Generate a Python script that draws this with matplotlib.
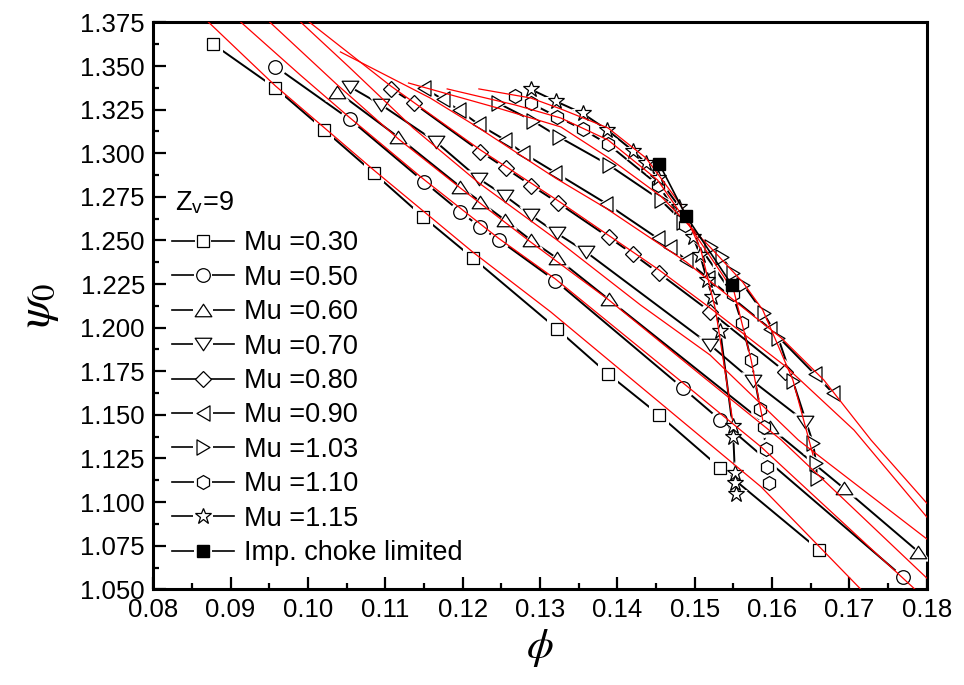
import matplotlib
matplotlib.use('Agg')
import matplotlib.pyplot as plt
from matplotlib.lines import Line2D
from matplotlib.path import Path
from matplotlib.legend_handler import HandlerTuple
from matplotlib.ticker import MultipleLocator, FormatStrFormatter

plt.rcParams['font.family'] = ['Liberation Sans', 'DejaVu Sans']
plt.rcParams['mathtext.fontset'] = 'stix'

# ---------------- data ----------------
labels = ['Mu =0.30', 'Mu =0.50', 'Mu =0.60', 'Mu =0.70', 'Mu =0.80',
          'Mu =0.90', 'Mu =1.03', 'Mu =1.10', 'Mu =1.15']
choke_label = 'Imp. choke limited'
title_text = r'Z$_\mathregular{v}$=9'

phi_030 = [0.0877, 0.0958, 0.1021, 0.1085, 0.1149, 0.1213, 0.1322, 0.1388, 0.1454, 0.1533, 0.1661]
psi_030 = [1.3627, 1.3374, 1.3134, 1.2887, 1.2635, 1.2400, 1.1993, 1.1735, 1.1500, 1.1196, 1.0725]

phi_050 = [0.0958, 0.1054, 0.1150, 0.1197, 0.1222, 0.1247, 0.1320, 0.1485, 0.1533, 0.1769]
psi_050 = [1.3497, 1.3195, 1.2837, 1.2665, 1.2579, 1.2503, 1.2269, 1.1653, 1.1471, 1.0572]

phi_060 = [0.1038, 0.1117, 0.1197, 0.1223, 0.1255, 0.1288, 0.1322, 0.1389, 0.1597, 0.1693, 0.1789]
psi_060 = [1.3353, 1.3092, 1.2808, 1.2722, 1.2616, 1.2503, 1.2398, 1.2162, 1.1429, 1.1079, 1.0716]

phi_070 = [0.1054, 0.1095, 0.1165, 0.1221, 0.1255, 0.1288, 0.1322, 0.1359, 0.1520, 0.1575, 0.1643]
psi_070 = [1.3382, 1.3277, 1.3067, 1.2854, 1.2755, 1.2646, 1.2541, 1.2436, 1.1901, 1.1694, 1.1461]

phi_080 = [0.1108, 0.1137, 0.1223, 0.1256, 0.1289, 0.1323, 0.1389, 0.1420, 0.1454, 0.1520, 0.1617]
psi_080 = [1.3369, 1.3286, 1.3010, 1.2913, 1.2815, 1.2717, 1.2518, 1.2423, 1.2312, 1.2092, 1.1748]

phi_090 = [0.1150, 0.1174, 0.1195, 0.1221, 0.1255, 0.1278, 0.1320, 0.1386, 0.1452, 0.1468,
           0.1489, 0.1517, 0.1598, 0.1655, 0.1679]
psi_090 = [1.3374, 1.3310, 1.3248, 1.3165, 1.3076, 1.3002, 1.2889, 1.2711, 1.2513, 1.2464,
           1.2388, 1.2285, 1.1993, 1.1735, 1.1624]

phi_103 = [0.1246, 0.1291, 0.1324, 0.1389, 0.1456, 0.1485, 0.1521, 0.1535, 0.1550, 0.1563,
           0.1589, 0.1608, 0.1627, 0.1653, 0.1657, 0.1658]
psi_103 = [1.3287, 1.3185, 1.3095, 1.2933, 1.2732, 1.2606, 1.2463, 1.2405, 1.2314, 1.2245,
           1.2084, 1.1941, 1.1694, 1.1339, 1.1224, 1.1138]

phi_110 = [0.1268, 0.1288, 0.1322, 0.1355, 0.1388, 0.1453, 0.1487, 0.1549, 0.1561, 0.1573,
           0.1585, 0.1589, 0.1592, 0.1594, 0.1596]
psi_110 = [1.3330, 1.3287, 1.3210, 1.3138, 1.3052, 1.2818, 1.2589, 1.2193, 1.2029, 1.1815,
           1.1531, 1.1432, 1.1302, 1.1203, 1.1110]

phi_115 = [0.1288, 0.1321, 0.1355, 0.1387, 0.1420, 0.1437, 0.1453, 0.1480, 0.1498, 0.1507,
           0.1516, 0.1523, 0.1533, 0.1549, 0.1550, 0.1552, 0.1552, 0.1554]
psi_115 = [1.3367, 1.3297, 1.3229, 1.3134, 1.3015, 1.2943, 1.2857, 1.2694, 1.2520, 1.2417,
           1.2274, 1.2178, 1.1983, 1.1436, 1.1375, 1.1165, 1.1108, 1.1046]

phi_choke = [0.1454, 0.1489, 0.1548]
psi_choke = [1.2941, 1.2640, 1.2245]

# model curves (red)
model_phi_030 = [0.0860, 0.0958, 0.1085, 0.1213, 0.1314, 0.1454, 0.1586, 0.1728]
model_psi_030 = [1.3800, 1.3386, 1.2904, 1.2434, 1.2090, 1.1574, 1.1087, 1.0440]
model_phi_050 = [0.0901, 0.0990, 0.1053, 0.1149, 0.1246, 0.1320, 0.1485, 0.1586, 0.1790]
model_psi_050 = [1.3800, 1.3449, 1.3208, 1.2853, 1.2514, 1.2279, 1.1683, 1.1316, 1.0479]
model_phi_060 = [0.0939, 0.1038, 0.1117, 0.1197, 0.1288, 0.1389, 0.1508, 0.1612, 0.1819]
model_psi_060 = [1.3800, 1.3392, 1.3082, 1.2801, 1.2491, 1.2159, 1.1729, 1.1356, 1.0485]
model_phi_070 = [0.0979, 0.1053, 0.1136, 0.1221, 0.1322, 0.1430, 0.1520, 0.1634, 0.1832]
model_psi_070 = [1.3800, 1.3495, 1.3145, 1.2830, 1.2503, 1.2130, 1.1843, 1.1356, 1.0680]
model_phi_080 = [0.0988, 0.1107, 0.1223, 0.1322, 0.1454, 0.1520, 0.1617, 0.1706, 0.1825]
model_psi_080 = [1.3800, 1.3386, 1.3019, 1.2732, 1.2331, 1.2113, 1.1780, 1.1413, 1.0783]
model_phi_090 = [0.1042, 0.1158, 0.1221, 0.1320, 0.1385, 0.1489, 0.1547, 0.1612, 0.1667, 0.1728, 0.1825]
model_psi_090 = [1.3581, 1.3317, 1.3145, 1.2858, 1.2686, 1.2377, 1.2170, 1.1941, 1.1700, 1.1356, 1.0869]
model_phi_103 = [0.1130, 0.1245, 0.1327, 0.1389, 0.1456, 0.1521, 0.1562, 0.1588, 0.1627, 0.1653]
model_psi_103 = [1.3403, 1.3260, 1.3151, 1.2973, 1.2755, 1.2457, 1.2262, 1.2102, 1.1700, 1.1270]
model_phi_110 = [0.1180, 0.1268, 0.1327, 0.1388, 0.1452, 0.1495, 0.1551, 0.1573, 0.1588]
model_psi_110 = [1.3369, 1.3277, 1.3202, 1.3076, 1.2847, 1.2572, 1.2205, 1.1815, 1.1471]
model_phi_115 = [0.1221, 0.1288, 0.1327, 0.1388, 0.1437, 0.1482, 0.1508, 0.1527, 0.1549]
model_psi_115 = [1.3369, 1.3317, 1.3254, 1.3145, 1.2973, 1.2704, 1.2446, 1.2102, 1.1471]

# ---------------- figure ----------------
fig = plt.figure(figsize=(9.64, 6.85), dpi=100)
ax = fig.add_axes([0.159, 0.1397, 0.8023, 0.8275])


def tri(v):
    return Path(v + [v[0]], [Path.MOVETO, Path.LINETO, Path.LINETO, Path.CLOSEPOLY])


tri_up = tri([(0, 0.75), (-1, -0.75), (1, -0.75)])
tri_dn = tri([(0, -0.75), (-1, 0.75), (1, 0.75)])
tri_lf = tri([(-0.85, 0), (0.85, 1), (0.85, -1)])
tri_rt = tri([(0.85, 0), (-0.85, 1), (-0.85, -1)])

series = [
    (phi_030, psi_030, 's', 8.6),
    (phi_050, psi_050, 'o', 9.8),
    (phi_060, psi_060, tri_up, 12.0),
    (phi_070, psi_070, tri_dn, 12.0),
    (phi_080, psi_080, 'D', 7.8),
    (phi_090, psi_090, tri_lf, 11.0),
    (phi_103, psi_103, tri_rt, 11.0),
    (phi_110, psi_110, 'h', 10.0),
    (phi_115, psi_115, '*', 12.0),
]
models = [
    (model_phi_030, model_psi_030), (model_phi_050, model_psi_050),
    (model_phi_060, model_psi_060), (model_phi_070, model_psi_070),
    (model_phi_080, model_psi_080), (model_phi_090, model_psi_090),
    (model_phi_103, model_psi_103), (model_phi_110, model_psi_110),
    (model_phi_115, model_psi_115),
]

handles = []
for (x, y, m, ms), lab in zip(series, labels):
    ax.plot(x, y, '-', color='black', lw=1.4, zorder=2)
    ax.plot(x, y, ls='none', marker=m, ms=ms + 5.5, mfc='white', mec='white', mew=0, zorder=3)
    ax.plot(x, y, ls='none', marker=m, ms=ms, mfc='white', mec='black', mew=0.9, zorder=4)
    h = (Line2D([], [], color='black', lw=1.2),
         Line2D([], [], ls='none', marker='s', ms=ms + 3, mfc='white', mec='white', mew=0),
         Line2D([], [], ls='none', marker=m, ms=ms, mfc='white', mec='black', mew=0.9))
    handles.append(h)

ax.plot(phi_choke, psi_choke, '-', color='black', lw=1.2, zorder=6)
ax.plot(phi_choke, psi_choke, ls='none', marker='s', ms=9, mfc='black', mec='black', zorder=7)
handles.append((Line2D([], [], color='black', lw=1.2),
                Line2D([], [], ls='none', marker='s', ms=13, mfc='white', mec='white', mew=0),
                Line2D([], [], ls='none', marker='s', ms=9, mfc='black', mec='black')))

for mx, my in models:
    ax.plot(mx, my, '-', color='#ff0000', lw=0.9, zorder=5)

ax.set_xlim(0.08, 0.18)
ax.set_ylim(1.05, 1.375)
ax.xaxis.set_major_locator(MultipleLocator(0.01))
ax.xaxis.set_minor_locator(MultipleLocator(0.005))
ax.yaxis.set_major_locator(MultipleLocator(0.025))
ax.yaxis.set_minor_locator(MultipleLocator(0.0125))
ax.xaxis.set_major_formatter(FormatStrFormatter('%.2f'))
ax.yaxis.set_major_formatter(FormatStrFormatter('%.3f'))
ax.tick_params(which='major', direction='in', length=9, width=1.6, labelsize=18.5, pad=6)
ax.tick_params(which='minor', direction='in', length=4.5, width=1.6)
for s in ax.spines.values():
    s.set_linewidth(2.2)

ax.set_xlabel(r'$\phi$', fontsize=31, labelpad=4)
ax.set_ylabel(r'$\psi_0$', fontsize=34, labelpad=14)

ax.text(0.028, 0.669, title_text, transform=ax.transAxes, fontsize=19.5,
        ha='left', va='baseline')

leg = ax.legend(handles, labels + [choke_label],
                handler_map={tuple: HandlerTuple(ndivide=1)},
                loc='upper left', bbox_to_anchor=(0.024, 0.633), borderaxespad=0,
                borderpad=0, frameon=False, fontsize=19.5, handlelength=2.3,
                handletextpad=0.35, labelspacing=0.31)

fig.savefig('out.png', dpi=100)
